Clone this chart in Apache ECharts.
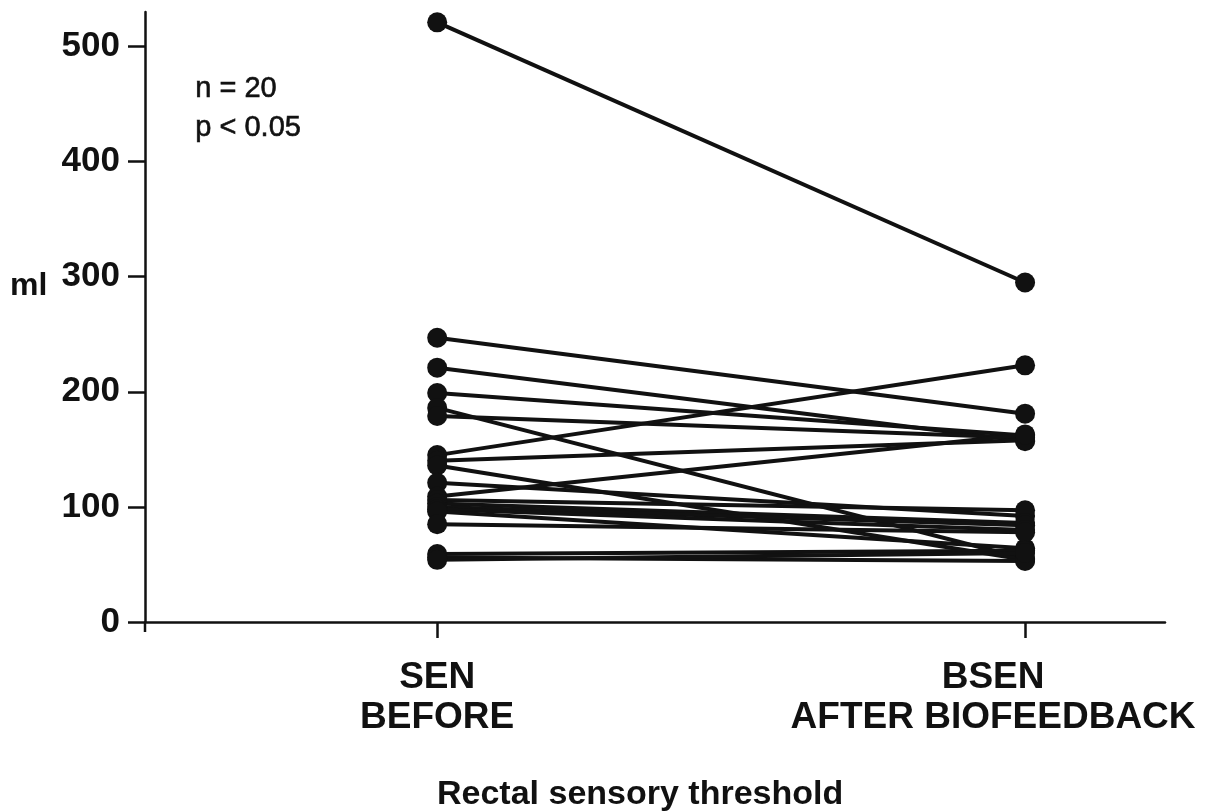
<!DOCTYPE html>
<html>
<head>
<meta charset="utf-8">
<script src="https://cdn.jsdelivr.net/npm/echarts@6/dist/echarts.min.js"></script>
<style>
  html, body { margin: 0; padding: 0; background: #fff; }
  #chart { width: 1214px; height: 812px; }
</style>
</head>
<body>
<div id="chart"></div>
<script>
// Paired rectal sensory thresholds (ml), one patient per pair
const conditions = ['SEN\nBEFORE', 'BSEN\nAFTER BIOFEEDBACK'];
const conditionPos = [1, 2];
const before = [521, 247, 221, 199, 186, 179, 145, 140, 136, 121, 109, 106, 103, 100, 98, 96, 85, 59, 56, 54];
const after  = [295, 181, 157, 162, 55, 160, 223, 158, 54, 92, 163, 97, 86, 84, 80, 64, 78, 62, 53, 60];
const yTicks = [0, 100, 200, 300, 400, 500];

const FONT = '"Liberation Sans", Arial, Helvetica, sans-serif';
const INK = '#111';

const series = before.map((b, i) => ({
  type: 'line',
  data: [[conditionPos[0], b], [conditionPos[1], after[i]]],
  symbol: 'circle',
  symbolSize: 20,
  lineStyle: { color: INK, width: 4 },
  itemStyle: { color: INK },
  silent: true,
  animation: false
}));

// second label is nudged left so the long line stays on the canvas
function conditionLabel(v) {
  const i = conditionPos.indexOf(v);
  if (i < 0) return '';
  const key = i === 0 ? 'a' : 'b';
  return conditions[i].split('\n').map(s => '{' + key + '|' + s + '}').join('\n');
}

const labelText = { fontFamily: FONT, fontWeight: 'bold', fontSize: 37, color: INK, lineHeight: 40 };

const chart = echarts.init(document.getElementById('chart'), null, { renderer: 'canvas' });
chart.setOption({
  backgroundColor: '#ffffff',
  animation: false,
  grid: { left: 145, right: 49, top: 12, bottom: 190, containLabel: false, outerBoundsMode: 'none' },
  xAxis: {
    type: 'value',
    min: 0.503,
    max: 2.238,
    splitLine: { show: false },
    axisLine: { show: true, lineStyle: { color: INK, width: 2.5 } },
    axisTick: { show: true, customValues: conditionPos, length: 16, inside: false,
      lineStyle: { color: INK, width: 2.5 } },
    axisLabel: {
      customValues: conditionPos,
      formatter: conditionLabel,
      margin: 36, align: 'center',
      rich: {
        a: Object.assign({}, labelText),
        b: Object.assign({ padding: [0, 64, 0, 0] }, labelText)
      }
    }
  },
  yAxis: {
    type: 'value',
    min: 0,
    max: 530,
    splitLine: { show: false },
    axisLine: { show: true, lineStyle: { color: INK, width: 2.5 } },
    axisTick: { show: true, customValues: yTicks, length: 17, lineStyle: { color: INK, width: 2.5 } },
    axisLabel: {
      customValues: yTicks,
      color: INK, fontFamily: FONT, fontWeight: 'bold', fontSize: 35, margin: 25
    }
  },
  graphic: [
    // short extension of the vertical axis below the baseline
    { type: 'line', shape: { x1: 145, y1: 622, x2: 145, y2: 632 },
      style: { stroke: INK, lineWidth: 2.5 } },
    { type: 'text', left: 10, top: 270,
      style: { text: 'ml', font: 'bold 32px ' + FONT, fill: INK } },
    { type: 'text', left: 195, top: 74,
      style: { text: 'n = 20', font: '29px ' + FONT, fill: INK, stroke: INK, lineWidth: 0.6 } },
    { type: 'text', left: 195, top: 113,
      style: { text: 'p < 0.05', font: '29px ' + FONT, fill: INK, stroke: INK, lineWidth: 0.6 } },
    { type: 'text', left: 437, top: 778,
      style: { text: 'Rectal sensory threshold', font: 'bold 34px ' + FONT, fill: INK } }
  ],
  series: series
});
</script>
</body>
</html>
